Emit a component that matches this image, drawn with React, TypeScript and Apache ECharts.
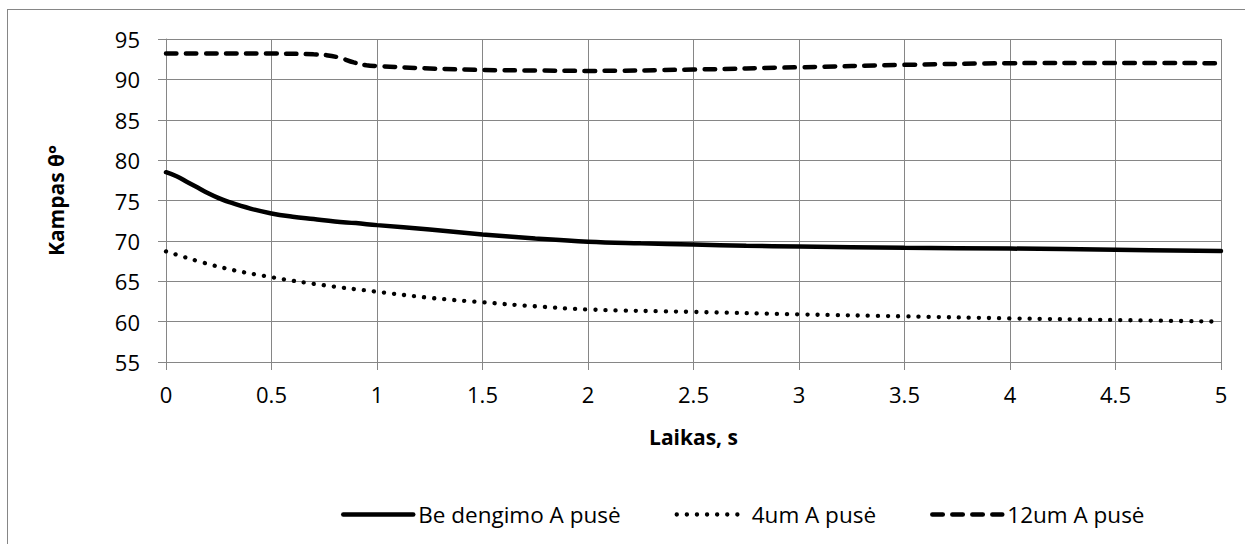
import React, { useEffect, useRef } from "react";
import * as echarts from "echarts";

const seriesNames = ["Be dengimo A pusė", "4um A pusė", "12um A pusė"];

const solidT = [0, 0.05, 0.1, 0.15, 0.2, 0.25, 0.3, 0.4, 0.5, 0.6, 0.7, 0.8, 0.9, 1.0, 1.25, 1.5, 1.75, 2.0, 2.25, 2.5, 2.75, 3.0, 3.5, 4.0, 4.5, 5.0];
const solidV = [78.5, 78.0, 77.3, 76.6, 75.9, 75.3, 74.8, 74.0, 73.4, 73.0, 72.7, 72.4, 72.2, 71.95, 71.4, 70.8, 70.3, 69.9, 69.7, 69.55, 69.4, 69.3, 69.15, 69.05, 68.9, 68.75];

const dottedT = [0, 0.25, 0.5, 0.75, 1.0, 1.25, 1.5, 1.75, 2.0, 2.5, 3.0, 3.5, 4.0, 4.5, 5.0];
const dottedV = [68.7, 66.8, 65.5, 64.5, 63.7, 62.95, 62.4, 61.9, 61.5, 61.2, 60.9, 60.65, 60.4, 60.2, 60.0];

const dashedT = [0, 0.25, 0.5, 0.7, 0.76, 0.82, 0.89, 0.95, 1.0, 1.25, 1.5, 1.75, 2.0, 2.5, 3.0, 3.5, 4.0, 4.5, 5.0];
const dashedV = [93.2, 93.2, 93.2, 93.1, 93.0, 92.7, 92.1, 91.75, 91.65, 91.35, 91.16, 91.1, 91.05, 91.22, 91.5, 91.8, 92.0, 92.04, 92.0];

const xTicks = ["0", "0.5", "1", "1.5", "2", "2.5", "3", "3.5", "4", "4.5", "5"];

const FONT = "'Open Sans', 'Noto Sans', sans-serif";
const GRID = "#868686";

function zip(t: number[], v: number[]) {
  return t.map((x, i) => [x, v[i]]);
}

export default function App() {
  const ref = useRef<HTMLDivElement>(null);
  useEffect(() => {
    if (!ref.current) return;
    const chart = echarts.init(ref.current, undefined, { renderer: "svg" });
    const solidStyle = { color: "#000", width: 4.5, type: "solid" as const, cap: "round" as const };
    const dottedStyle = { color: "#000", width: 4.3, type: [0.1, 10], cap: "round" as const };
    const dashedStyle = { color: "#000", width: 4.5, type: [10.5, 9.5], cap: "round" as const };
    const hidden = { color: "rgba(0,0,0,0)", borderColor: "rgba(0,0,0,0)", borderWidth: 0, opacity: 0 };
    chart.setOption({
      animation: false,
      textStyle: { fontFamily: FONT, color: "#000" },
      grid: { left: 158, top: 29, right: 24, bottom: 182, containLabel: false },
      xAxis: {
        type: "value",
        min: 0,
        max: 5,
        interval: 0.5,
        name: "Laikas, s",
        nameLocation: "middle",
        nameGap: 64,
        nameTextStyle: { fontFamily: FONT, fontSize: 21, fontWeight: "bold", color: "#000" },
        axisLine: { show: true, lineStyle: { color: GRID, width: 1 } },
        axisTick: { show: true, length: 8, inside: false, lineStyle: { color: GRID } },
        axisLabel: {
          margin: 21,
          fontSize: 22,
          fontFamily: FONT,
          color: "#000",
          formatter: (v: number) => xTicks[Math.round(v / 0.5)] ?? String(v),
        },
        splitLine: { show: true, lineStyle: { color: GRID, width: 1 } },
      },
      yAxis: {
        type: "value",
        min: 55,
        max: 95,
        interval: 5,
        name: "Kampas θ°",
        nameLocation: "middle",
        nameGap: 100,
        nameTextStyle: { fontFamily: FONT, fontSize: 21, fontWeight: "bold", color: "#000" },
        axisLine: { show: true, lineStyle: { color: GRID, width: 1 } },
        axisTick: { show: true, length: 8, inside: false, lineStyle: { color: GRID } },
        axisLabel: { margin: 26, fontSize: 22, fontFamily: FONT, color: "#000" },
        splitLine: { show: true, lineStyle: { color: GRID, width: 1 } },
      },
      legend: {
        left: 328,
        top: 488,
        itemWidth: 70,
        itemHeight: 14,
        itemGap: 54,
        textStyle: { fontFamily: FONT, fontSize: 22.5, color: "#000" },
        data: [
          { name: seriesNames[0], lineStyle: { width: 4.5 }, itemStyle: hidden },
          { name: seriesNames[1], lineStyle: { width: 4.3 }, itemStyle: hidden },
          { name: seriesNames[2], lineStyle: { width: 4.5 }, itemStyle: hidden },
        ],
      },
      series: [
        {
          name: seriesNames[0],
          type: "line",
          data: zip(solidT, solidV),
          symbol: "none",
          smooth: 0.4,
          lineStyle: solidStyle,
          itemStyle: { color: "#000" },
        },
        {
          name: seriesNames[1],
          type: "line",
          data: zip(dottedT, dottedV),
          symbol: "none",
          smooth: 0.4,
          lineStyle: dottedStyle,
          itemStyle: { color: "#000" },
        },
        {
          name: seriesNames[2],
          type: "line",
          data: zip(dashedT, dashedV),
          symbol: "none",
          smooth: 0.4,
          lineStyle: dashedStyle,
          itemStyle: { color: "#000" },
        },
      ],
    });
    return () => chart.dispose();
  }, []);
  return (
    <div
      style={{
        position: "absolute",
        left: 7,
        top: 9,
        width: 1238,
        height: 535,
        borderLeft: "1px solid #868686",
        borderTop: "1px solid #868686",
        boxSizing: "border-box",
        background: "#fff",
      }}
    >
      <div ref={ref} style={{ width: 1237, height: 534 }} />
    </div>
  );
}
